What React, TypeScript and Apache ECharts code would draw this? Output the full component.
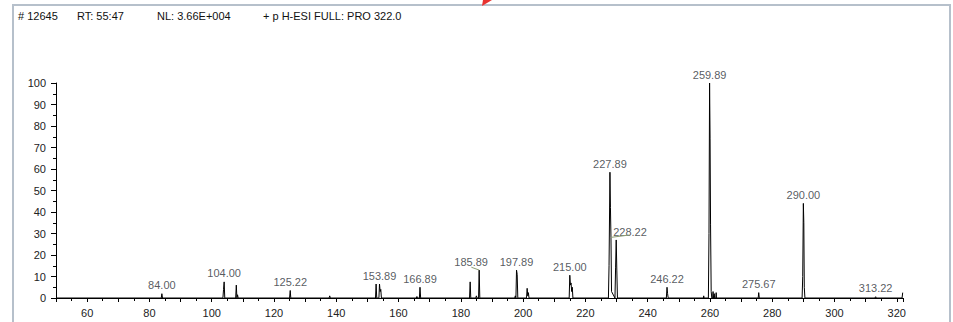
import React, { useEffect, useRef } from "react";
import * as echarts from "echarts";

// Header fields
const headerTexts = ["# 12645", "RT: 55:47", "NL: 3.66E+004", "+ p H-ESI FULL: PRO 322.0"];

// Axis ranges / labelled ticks
const xMin = 50;
const xMax = 322;
const xTickStep = 10;
const xLabelStep = 20;

// Profile spectrum (m/z, relative abundance)
const profileMz = [
  50,
  83.8, 84.0, 84.2,
  103.6, 103.8, 104.0, 104.2,
  107.7, 107.9, 108.1, 108.3, 108.5,
  125.0, 125.22, 125.4,
  137.7, 137.9, 138.1,
  152.6, 152.8, 153.0, 153.7, 153.89, 154.1, 154.3, 154.5,
  165.7, 165.9, 166.1,
  166.7, 166.89, 167.1,
  182.8, 183.0, 183.2,
  184.8, 185.0, 185.2,
  185.7, 185.89, 186.1,
  197.3, 197.5, 197.7, 197.89, 198.1, 198.3,
  201.1, 201.3, 201.5, 201.7, 201.9,
  214.8, 215.0, 215.2, 215.4, 215.6, 215.8, 216.0,
  227.4, 227.6, 227.89, 228.05, 228.22, 228.4, 229.5, 229.7, 229.9, 230.1, 230.3,
  246.0, 246.22, 246.4, 246.6,
  257.9, 258.0, 258.1,
  259.5, 259.7, 259.89, 260.05, 260.2, 260.4, 260.6, 260.9, 261.0, 261.1, 261.4, 261.5, 261.9, 262.0, 262.1,
  275.5, 275.67, 275.85,
  289.6, 289.8, 290.0, 290.15, 290.3, 290.5,
  313.0, 313.22, 313.4,
  321.7, 321.9, 322,
];
const profileInt = [
  0,
  0, 2, 0,
  0, 4, 7.5, 0,
  0, 6, 0, 1.5, 0,
  0, 3.5, 0,
  0, 1, 0,
  0, 6.5, 0, 0, 6.5, 3, 4, 0,
  0, 0.7, 0,
  0, 5, 0,
  0, 7.5, 0,
  0, 1, 0,
  0, 13, 0,
  0, 1, 0, 13, 11, 0,
  0, 4.5, 1, 2.5, 0,
  0, 10.6, 6, 7, 3, 5, 0,
  0, 15, 58.5, 42, 28, 3, 0, 14, 27, 13, 0,
  0, 5, 2, 0,
  0, 1, 0,
  0, 30, 100, 74, 34, 3, 0, 0, 3, 0, 2, 0, 0, 2.5, 0,
  0, 2.5, 0,
  0, 10, 44, 35, 5, 0,
  0, 0.6, 0,
  0, 2.5, 2.5,
];

// Labelled peaks
const labelMz = [84.0, 104.0, 125.22, 153.89, 166.89, 185.89, 197.89, 215.0, 227.89, 228.22, 246.22, 259.89, 275.67, 290.0, 313.22];
const labelInt = [2, 7.5, 3.5, 6.5, 5, 13, 13, 10.6, 58.5, 28, 5, 100, 2.5, 44, 0.6];

// Leader lines (label underline to peak), in m/z / abundance
const leaderMz = [[183.4, 185.89], [228.22, 234.2]];
const leaderInt = [[14.3, 13], [28.2, 29.3]];

const FONT = "'Liberation Sans', Arial, sans-serif";

export default function App() {
  const ref = useRef<HTMLDivElement>(null);

  useEffect(() => {
    document.body.style.margin = "0";
    const chart = echarts.init(ref.current!, undefined, { renderer: "svg" });

    const profile = profileMz.map((m, i) => [m, profileInt[i]]);
    const moved: Record<number, { dx: number; dy: number }> = {
      5: { dx: -8, dy: 0 },
      9: { dx: 19, dy: 3 },
    };
    const labels = labelMz.map((m, i) => [m, labelInt[i]]);

    const headerX = [18, 77, 157, 263];

    chart.setOption({
      animation: false,
      backgroundColor: "#ffffff",
      grid: { left: 56, right: 50, top: 83, bottom: 24, containLabel: false },
      xAxis: {
        type: "value",
        min: xMin,
        max: xMax,
        interval: xTickStep,
        axisLine: { show: true, onZero: false, lineStyle: { color: "#000", width: 1 } },
        axisTick: { show: true, length: 4, lineStyle: { color: "#000", width: 1 } },
        minorTick: { show: true, splitNumber: 2, length: 3, lineStyle: { color: "#000", width: 1 } },
        axisLabel: {
          fontSize: 11,
          color: "#222",
          margin: 9,
          fontFamily: FONT,
          showMinLabel: false,
          showMaxLabel: false,
          formatter: (v: number) => (v % xLabelStep === 0 ? String(v) : ""),
        },
        splitLine: { show: false },
        minorSplitLine: { show: false },
      },
      yAxis: {
        type: "value",
        min: 0,
        max: 100,
        interval: 10,
        axisLine: { show: true, lineStyle: { color: "#000", width: 1 } },
        axisTick: { show: true, length: 5, lineStyle: { color: "#000", width: 1 } },
        minorTick: { show: true, splitNumber: 2, length: 3, lineStyle: { color: "#000", width: 1 } },
        axisLabel: { fontSize: 11, color: "#222", margin: 10, fontFamily: FONT },
        splitLine: { show: false },
        minorSplitLine: { show: false },
      },
      series: [
        {
          type: "line",
          data: profile,
          showSymbol: false,
          symbol: "none",
          lineStyle: { color: "#000", width: 1 },
          silent: true,
        },
        ...leaderMz.map((xs, k) => ({
          type: "line",
          data: xs.map((x, j) => [x, leaderInt[k][j]]),
          showSymbol: false,
          symbol: "none",
          lineStyle: { color: "#8c9c72", width: 1 },
          silent: true,
        })),
        {
          type: "scatter",
          data: labels,
          symbolSize: 0,
          silent: true,
          label: {
            show: true,
            position: "top",
            distance: 3,
            fontSize: 11,
            color: "#2b2f36",
            fontFamily: FONT,
            formatter: (p: any) => p.value[0].toFixed(2),
          },
          labelLayout: (params: any) => moved[params.dataIndex] || {},
        },
      ],
      graphic: [
        {
          type: "rect",
          shape: { x: 13, y: 5, width: 937, height: 340 },
          style: { fill: "none", stroke: "#b6c0cb", lineWidth: 2 },
          silent: true,
        },
        {
          type: "polygon",
          shape: { points: [[483, 0], [492, 0], [482, 6]] },
          style: { fill: "#e8322f" },
          silent: true,
        },
        ...headerTexts.map((t, i) => ({
          type: "text",
          x: headerX[i],
          y: 16,
          style: { text: t, fontSize: 11, fill: "#111", fontFamily: FONT, textVerticalAlign: "middle" },
          silent: true,
        })),
      ],
    });

    return () => chart.dispose();
  }, []);

  return <div ref={ref} style={{ width: 953, height: 322 }} />;
}
